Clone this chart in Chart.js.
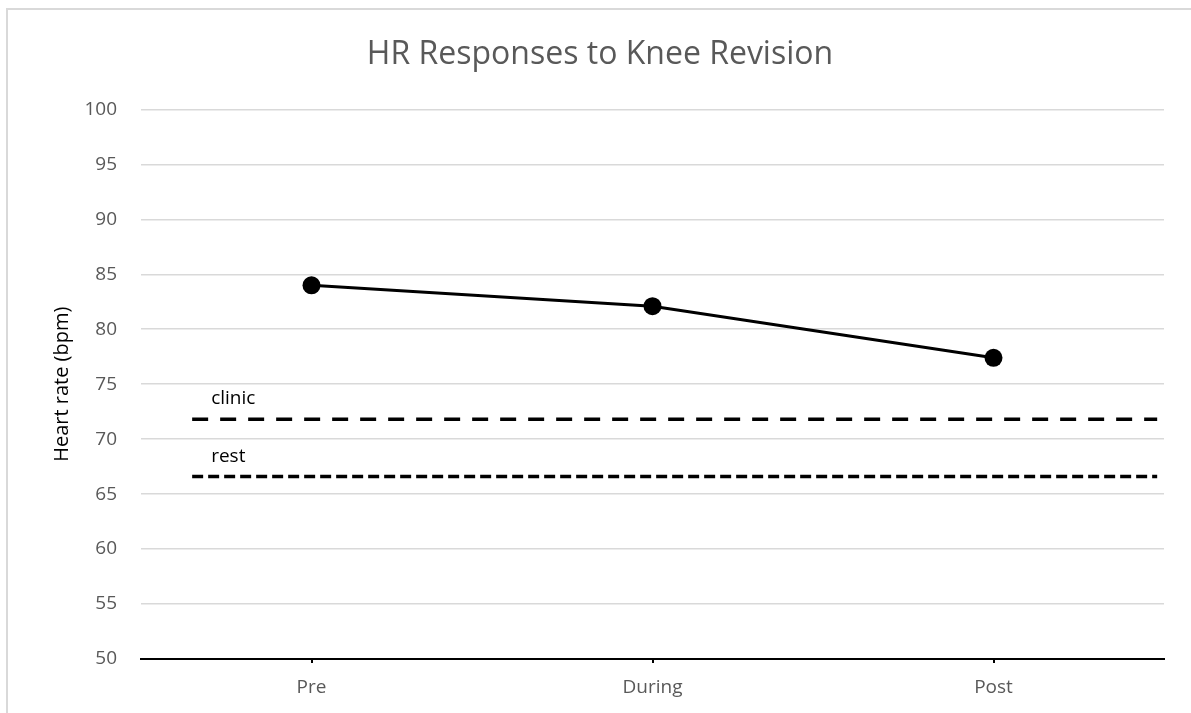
<!DOCTYPE html>
<html>
  <head>
    <title>HR Responses to Knee Revision</title>
    <style>
      body {
        margin: 0;
        overflow: hidden;
        background: #fff;
      }
      .frame {
        position: absolute;
        left: 6px;
        top: 8px;
        width: 1400px;
        height: 900px;
        border: 2px solid #d9d9d9;
      }
      canvas {
        position: absolute;
        top: 0;
        left: 0;
      }
    </style>
  </head>
  <body>
    <div class="frame"></div>
    <canvas id="hr-chart" width="1191" height="713"></canvas>

    <script src="https://cdn.jsdelivr.net/npm/chart.js"></script>
    <script>
      // Data
      var phases = ["Pre", "During", "Post"]
      var heartRate = [84.0, 82.1, 77.4]

      var refNames = ["clinic", "rest"]
      var refValues = [71.8, 66.6]
      var refDash = [[16, 12], [11, 5]]
      var refFrom = -0.35 // in category-index units
      var refTo = 2.48

      var yTicks = { min: 50, max: 100, step: 5 }

      var FONT = "'Open Sans', 'Liberation Sans', sans-serif"
      var GREY = "#595959"

      var datasets = [
        {
          label: "HR",
          data: heartRate,
          xAxisID: "x",
          borderColor: "#000",
          backgroundColor: "#000",
          borderWidth: 3,
          pointRadius: 9,
          pointBorderWidth: 0,
          tension: 0,
        },
      ]

      refNames.forEach(function (name, i) {
        datasets.push({
          label: name,
          data: [
            { x: refFrom, y: refValues[i] },
            { x: refTo, y: refValues[i] },
          ],
          xAxisID: "x2",
          borderColor: "#000",
          borderWidth: 3.5,
          borderDash: refDash[i],
          pointRadius: 0,
          isRef: true,
        })
      })

      // text above the reference lines
      var refLabels = {
        id: "refLabels",
        afterDatasetsDraw: function (chart) {
          var c = chart.ctx
          c.save()
          c.font = "19px " + FONT
          c.fillStyle = "#000"
          c.textBaseline = "alphabetic"
          chart.data.datasets.forEach(function (ds, i) {
            if (!ds.isRef) return
            var p = chart.getDatasetMeta(i).data[0]
            c.fillText(ds.label, p.x + 19, p.y - 15)
          })
          c.restore()
        },
      }

      var config = {
        type: "line",
        data: { labels: phases, datasets: datasets },
        options: {
          responsive: false,
          animation: false,
          layout: { padding: { left: 36, right: 27, top: 0, bottom: 0 } },
          plugins: {
            legend: { display: false },
            tooltip: { enabled: false },
            title: {
              display: true,
              text: "HR Responses to Knee Revision",
              color: GREY,
              font: { family: FONT, size: 32, weight: "normal" },
              padding: { top: 36, bottom: 35 },
            },
          },
          scales: {
            x: {
              type: "category",
              offset: true,
              afterFit: function (s) {
                s.height = 54
              },
              grid: {
                drawOnChartArea: false,
                drawTicks: true,
                tickLength: 4,
                color: "#000",
                lineWidth: 2,
              },
              border: { color: "#000", width: 2 },
              ticks: {
                color: GREY,
                padding: 13,
                font: { family: FONT, size: 19 },
              },
            },
            x2: {
              type: "linear",
              display: false,
              min: -0.5,
              max: 2.5,
            },
            y: {
              min: yTicks.min,
              max: yTicks.max,
              afterFit: function (s) {
                s.width = 105
              },
              border: { display: false },
              grid: {
                drawTicks: false,
                lineWidth: 1.5,
                color: function (ctx) {
                  return ctx.tick && ctx.tick.value === yTicks.min ? "rgba(0,0,0,0)" : "#d9d9d9"
                },
              },
              ticks: {
                stepSize: yTicks.step,
                color: GREY,
                padding: 24,
                font: { family: FONT, size: 19 },
              },
              title: {
                display: true,
                text: "Heart rate (bpm)",
                color: "#000",
                font: { family: FONT, size: 20 },
                padding: { top: 14, bottom: 0 },
              },
            },
          },
        },
        plugins: [refLabels],
      }

      var ctx = document.getElementById("hr-chart").getContext("2d")
      new Chart(ctx, config)
    </script>
  </body>
</html>
